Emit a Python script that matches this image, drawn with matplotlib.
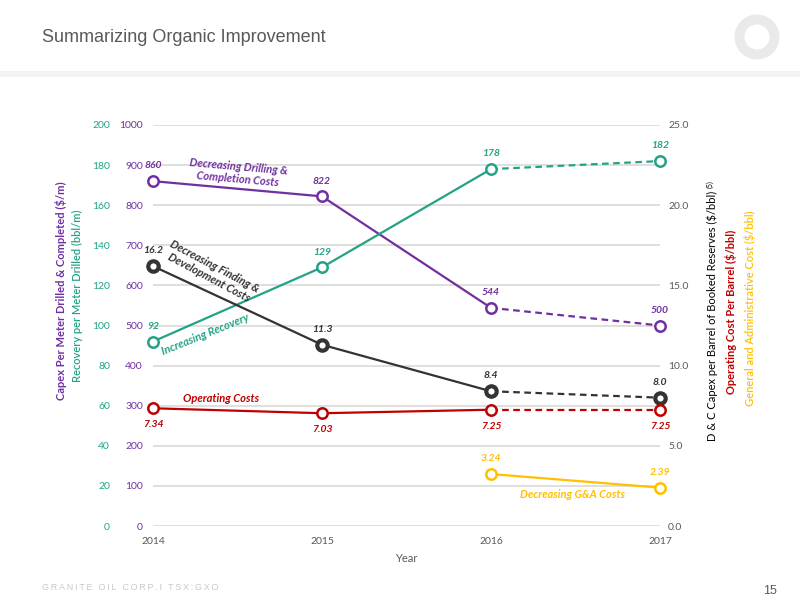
import matplotlib
matplotlib.use("Agg")
import matplotlib.pyplot as plt
from matplotlib.patches import Circle, Rectangle

years = [2014, 2015, 2016, 2017]
dc_capex = [860, 822, 544, 500]          # $/m, left inner axis
recovery = [92, 129, 178, 182]           # bbl/m, left outer axis
fd_cost = [16.2, 11.3, 8.4, 8.0]         # $/bbl, right axis
op_cost = [7.34, 7.03, 7.25, 7.25]       # $/bbl, right axis
ga_years = [2016, 2017]
ga_cost = [3.24, 2.39]                   # $/bbl, right axis

dc_labels = ["860", "822", "544", "500"]
rec_labels = ["92", "129", "178", "182"]
fd_labels = ["16.2", "11.3", "8.4", "8.0"]
op_labels = ["7.34", "7.03", "7.25", "7.25"]
ga_labels = ["3.24", "2.39"]

PURPLE = "#7030A0"
GREEN = "#23A386"
DARK = "#333333"
RED = "#C00000"
YELLOW = "#FFC000"
GRAY = "#595959"

FONT = "Lato"
plt.rcParams['font.family'] = [FONT, 'DejaVu Sans']

PT = 72 / 100  # points per pixel

fig = plt.figure(figsize=(8, 6), dpi=100)
fig.patch.set_facecolor("white")

# header band
fig.add_artist(Rectangle((0, 1 - 77/600), 1, 6/600, transform=fig.transFigure,
                         facecolor="#F3F3F3", edgecolor="none"))
fig.text(42/800, 1 - 37/600, "Summarizing Organic Improvement", fontsize=13,
         color=GRAY, family=["Liberation Sans", "DejaVu Sans"], va="center", ha="left")
footer = "GRANITE OIL CORP.I TSX:GXO"
fig.text(42/800, 1 - 588/600, "\u2009".join(footer),
         fontsize=6.5, color="#C8C8C8", family=["Liberation Sans", "DejaVu Sans"], va="center")
fig.text(777/800, 1 - 591/600, "15", fontsize=9, color=GRAY,
         family=["Liberation Sans", "DejaVu Sans"], ha="right", va="center")
# logo ring
logo_ax = fig.add_axes([732/800, 1 - 62/600, 50/800, 50/600])
logo_ax.set_aspect("equal")
logo_ax.axis("off")
logo_ax.add_patch(Circle((0.5, 0.5), 0.35, facecolor="none", edgecolor="#EAEAEA",
                         linewidth=10 * PT))
logo_ax.set_xlim(0, 1)
logo_ax.set_ylim(0, 1)

ax = fig.add_axes([153/800, 1 - 526/600, 507/800, 401/600])
ax_g = ax.twinx()
ax_r = ax.twinx()

for a in (ax, ax_g, ax_r):
    for s in a.spines.values():
        s.set_visible(False)
    a.set_xlim(2014, 2017)
    a.tick_params(length=0)

ax.set_ylim(0, 1000)
ax_g.set_ylim(0, 200)
ax_r.set_ylim(0, 25)

ax.set_yticks(range(0, 1001, 100))
ax.tick_params(axis="y", labelcolor=PURPLE, labelsize=7.5, pad=10 * PT)
ax.grid(axis="y", color="#D9D9D9", linewidth=1.2)
ax.set_axisbelow(True)

ax_g.yaxis.tick_left()
ax_g.set_yticks(range(0, 201, 20))
ax_g.tick_params(axis="y", labelcolor=GREEN, labelsize=7.5, pad=43 * PT,
                 labelleft=True, labelright=False)

ax_r.set_yticks([0, 5, 10, 15, 20, 25])
ax_r.set_yticklabels([f"{v:.1f}" for v in [0, 5, 10, 15, 20, 25]])
ax_r.tick_params(axis="y", labelcolor=GRAY, labelsize=7.5, pad=8 * PT)

ax.set_xticks(years)
ax.set_xticklabels([str(y) for y in years])
ax.tick_params(axis="x", labelcolor=GRAY, labelsize=7.5, pad=8)
ax.set_xlabel("Year", fontsize=8, color=GRAY, labelpad=5)


def series(a, xs, ys, color, dashed_last=True, mew=1.8, zorder=3):
    if dashed_last:
        a.plot(xs[:-1], ys[:-1], color=color, linewidth=1.6, zorder=zorder, clip_on=False)
        a.plot(xs[-2:], ys[-2:], color=color, linewidth=1.6, linestyle=(0, (3, 2)),
               zorder=zorder, clip_on=False)
    else:
        a.plot(xs, ys, color=color, linewidth=1.6, zorder=zorder, clip_on=False)
    a.plot(xs, ys, linestyle="none", marker="o", markersize=7.5, markerfacecolor="white",
           markeredgecolor=color, markeredgewidth=mew, zorder=zorder + 1, clip_on=False)


def labels(a, xs, ys, texts, color, dy=11, dx=0):
    for x, y, t in zip(xs, ys, texts):
        a.annotate(t, (x, y), xytext=(dx, dy), textcoords="offset points",
                   ha="center", va="center", fontsize=7.5, color=color,
                   style="italic", fontweight="bold", annotation_clip=False)


series(ax, years, dc_capex, PURPLE)
series(ax_g, years, recovery, GREEN)
series(ax_r, years, fd_cost, DARK, mew=3)
series(ax_r, years, op_cost, RED)
series(ax_r, ga_years, ga_cost, YELLOW, dashed_last=False)

labels(ax, years, dc_capex, dc_labels, PURPLE)
labels(ax_g, years, recovery, rec_labels, GREEN)
labels(ax_r, years, fd_cost, fd_labels, DARK)
labels(ax_r, years, op_cost, op_labels, RED, dy=-12)
labels(ax_r, ga_years, ga_cost, ga_labels, YELLOW)


def px(x, y):
    return (x / 800, 1 - y / 600)


ann = dict(ha="center", va="center", fontsize=8, style="italic", fontweight="bold",
           rotation_mode="anchor", transform=fig.transFigure)
fig.text(*px(238, 173), "Decreasing Drilling &\nCompletion Costs", color=PURPLE,
         rotation=-5, linespacing=1.1, **ann)
fig.text(*px(212, 272), "Decreasing Finding &\nDevelopment Costs", color=DARK,
         rotation=-28, linespacing=1.1, **ann)
fig.text(*px(205, 334), "Increasing Recovery", color=GREEN, rotation=22, **ann)
fig.text(*px(221, 398), "Operating Costs", color=RED, rotation=0, **ann)
fig.text(*px(573, 495), "Decreasing G&A Costs", color=YELLOW, rotation=0, **ann)

# axis titles
fig.text(*px(61, 291), "Capex Per Meter Drilled & Completed ($/m)", rotation=90,
         ha="center", va="center", fontsize=8, fontweight="bold", color=PURPLE)
fig.text(*px(77, 296), "Recovery per Meter Drilled (bbl/m)", rotation=90,
         ha="center", va="center", fontsize=8, color=GREEN, fontweight="semibold")
fig.text(*px(712, 316), "D & C Capex per Barrel of Booked Reserves ($/bbl)", rotation=90,
         ha="center", va="center", fontsize=8, color="black")
fig.text(*px(710, 184), "(5)", rotation=90, ha="center", va="center", fontsize=5,
         color="black")
fig.text(*px(731, 312), "Operating Cost Per Barrel ($/bbl)", rotation=90,
         ha="center", va="center", fontsize=8, fontweight="bold", color=RED)
fig.text(*px(750, 308), "General and Administrative Cost ($/bbl)", rotation=90,
         ha="center", va="center", fontsize=8, fontweight="semibold", color=YELLOW)

fig.savefig("out.png", dpi=100, facecolor="white")
